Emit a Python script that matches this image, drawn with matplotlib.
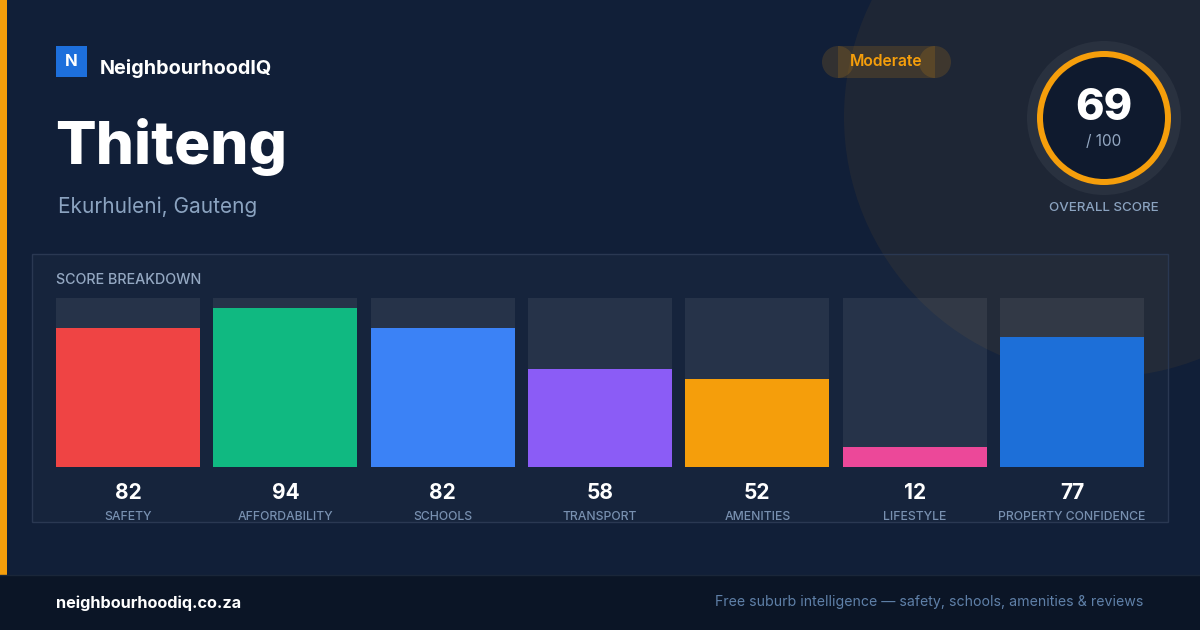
import matplotlib
matplotlib.use("Agg")
import matplotlib.pyplot as plt
from matplotlib.patches import Rectangle, Circle, Wedge
import numpy as np

plt.rcParams['font.family'] = ['Inter', 'DejaVu Sans']

# ── Data ───────────────────────────────────────
suburb = "Thiteng"
region = "Ekurhuleni, Gauteng"
overall_score = 69
rating = "Moderate"
categories = ["SAFETY", "AFFORDABILITY", "SCHOOLS", "TRANSPORT",
              "AMENITIES", "LIFESTYLE", "PROPERTY CONFIDENCE"]
scores = [82, 94, 82, 58, 52, 12, 77]
bar_colors = ["#ef4444", "#10b981", "#3b82f6", "#8b5cf6",
              "#f59e0b", "#ec4899", "#1d6fd8"]

BG = "#111f38"
ORANGE = "#f59e0b"
MUTED = "#8ba3c0"

W, H = 1200, 630
fig = plt.figure(figsize=(12, 6.3), dpi=100, facecolor=BG)

# background canvas in pixel coordinates (y down)
bg = fig.add_axes([0, 0, 1, 1])
bg.set_xlim(0, W)
bg.set_ylim(H, 0)
bg.axis("off")
bg.set_facecolor(BG)

# big faint circle top-right
bg.add_patch(Circle((1104, 117), 260, color=ORANGE, alpha=0.06, lw=0))

# left accent stripe and footer
bg.add_patch(Rectangle((0, 0), 7, 575, color=ORANGE, lw=0))
bg.add_patch(Rectangle((0, 575), W, 55, color="#0b1526", lw=0))
bg.plot([0, W], [575, 575], color="#1a2639", lw=1)

# logo
bg.add_patch(Rectangle((56, 46), 31, 31, color="#1d6fdc", lw=0))
bg.text(71.5, 61.5, "N", color="white", fontsize=12, fontweight="bold",
        ha="center", va="center")
bg.text(100, 68, "NeighbourhoodIQ", color="white", fontsize=14.3,
        fontweight="bold", ha="left", va="center")

# title
bg.text(55, 147, suburb, color="white", fontsize=43.3, fontweight="heavy",
        ha="left", va="center")
bg.text(58, 207, region, color=MUTED, fontsize=15, ha="left", va="center")

# rating pill
for cx in (838, 935):
    bg.add_patch(Circle((cx, 62), 16, color=ORANGE, alpha=0.15, lw=0))
bg.add_patch(Rectangle((838, 46), 97, 32, color=ORANGE, alpha=0.15, lw=0))
bg.text(886, 62, rating, color=ORANGE, fontsize=11.3, fontweight="semibold",
        ha="center", va="center")

# overall score ring
bg.add_patch(Circle((1104, 118), 77, color="#ffffff", alpha=0.05, lw=0))
bg.add_patch(Circle((1104, 118), 64, color="#0f1a2e", lw=0))
bg.add_patch(Wedge((1104, 118), 67, 0, 360, width=6, color=ORANGE, lw=0))
bg.text(1104, 109, str(overall_score), color="white", fontsize=31,
        fontweight="heavy", ha="center", va="center")
bg.text(1104, 142, "/ 100", color="#94a8c2", fontsize=11, ha="center", va="center")
bg.text(1104, 208, "OVERALL SCORE", color=MUTED, fontsize=9.6,
        fontweight="medium", ha="center", va="center")

# breakdown panel
bg.add_patch(Rectangle((32, 254), 1136, 268, facecolor="#ffffff", alpha=0.025,
                       edgecolor="none"))
bg.add_patch(Rectangle((32, 254), 1136, 268, facecolor="none",
                       edgecolor="#2a3852", lw=1))
bg.text(56, 280, "SCORE BREAKDOWN", color="#94a8c2", fontsize=10.3,
        fontweight="medium", ha="left", va="center")

# footer texts
bg.text(56, 603, "neighbourhoodiq.co.za", color="white", fontsize=11.7,
        fontweight="bold", ha="left", va="center")
bg.text(1143, 602, "Free suburb intelligence \u2014 safety, schools, amenities & reviews",
        color="#5f80a8", fontsize=10.2, ha="right", va="center")

# ── Bars ───────────────────────────────────────
left, right, top, bottom = 56, 1144, 298, 467
ax = fig.add_axes([left / W, 1 - bottom / H, (right - left) / W, (bottom - top) / H])
ax.patch.set_alpha(0)
ax.axis("off")

n = len(scores)
x = np.arange(n)
bw = 144 / 157.33
ax.bar(x, [100] * n, width=bw, color="#ffffff", alpha=0.07, lw=0)
ax.bar(x, scores, width=bw, color=bar_colors, lw=0)
ax.set_xlim(-bw / 2, n - 1 + bw / 2)
ax.set_ylim(0, 100)

for xi, s, c in zip(x, scores, categories):
    ax.annotate(str(s), (xi, 0), xytext=(0, -26), textcoords="offset pixels",
                color="white", fontsize=15, fontweight="bold",
                ha="center", va="center")
    ax.annotate(c, (xi, 0), xytext=(0, -50), textcoords="offset pixels",
                color="#7890b0", fontsize=8.8, fontweight="medium",
                ha="center", va="center")

fig.savefig("out.png", dpi=100, facecolor=BG)
